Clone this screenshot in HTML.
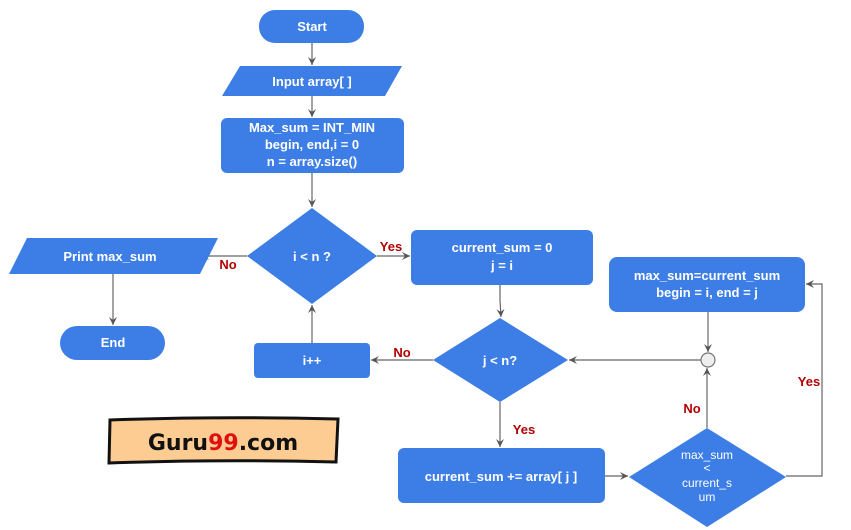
<!DOCTYPE html>
<html><head><meta charset="utf-8"><style>
body{margin:0;background:#fff}
svg{display:block}
text{font-family:"Liberation Sans",Arial,sans-serif;font-weight:bold;font-size:13px;fill:#fff;text-anchor:middle}
.r{fill:#b30000;font-size:13px}
</style></head><body>
<svg width="851" height="530" viewBox="0 0 851 530" xmlns="http://www.w3.org/2000/svg">
<defs><marker id="a" markerWidth="10" markerHeight="10" refX="8" refY="4" orient="auto" markerUnits="userSpaceOnUse"><path d="M0,0 L8,4 L0,8 L3,4 Z" fill="#555"/></marker></defs>
<g stroke="#666" stroke-width="1.2" fill="none" marker-end="url(#a)">
<line x1="312" y1="43" x2="312" y2="65"/>
<line x1="312" y1="96" x2="312" y2="117"/>
<line x1="312" y1="173" x2="312" y2="207"/>
<line x1="377" y1="256" x2="410" y2="256"/>
<line x1="247" y1="256" x2="201" y2="256"/>
<line x1="113" y1="274" x2="113" y2="325"/>
<polyline points="500,285 500,300 501,317"/>
<line x1="500" y1="402" x2="500" y2="447"/>
<line x1="433" y1="360" x2="371" y2="360"/>
<line x1="312" y1="343" x2="312" y2="305"/>
<line x1="605" y1="476" x2="628" y2="476"/>
<line x1="707" y1="428" x2="707" y2="368"/>
<line x1="701" y1="360" x2="569" y2="360"/>
<line x1="708" y1="312" x2="708" y2="352"/>
<polyline points="786,476 822,476 822,284 806,284"/>
</g>
<circle cx="708" cy="360" r="7" fill="#eee" stroke="#777" stroke-width="1.2"/>
<g fill="#3d7ee6">
<rect x="259" y="10" width="105" height="33" rx="16"/>
<polygon points="240,66 402,66 385,96 222,96"/>
<rect x="221" y="118" width="183" height="55" rx="6"/>
<polygon points="312,208 377,256 312,304 247,256"/>
<polygon points="27,238 218,238 200,274 9,274"/>
<rect x="60" y="326" width="105" height="34" rx="17"/>
<rect x="411" y="230" width="182" height="55" rx="6"/>
<polygon points="500,318 568,360 500,402 433,360"/>
<rect x="254" y="343" width="116" height="35" rx="4"/>
<rect x="609" y="257" width="196" height="55" rx="8"/>
<rect x="398" y="448" width="207" height="55" rx="6"/>
<polygon points="707,428 786,477 707,527 629,477"/>
</g>
<text x="312" y="31">Start</text>
<text x="312" y="86">Input array[ ]</text>
<text x="312" y="132">Max_sum = INT_MIN</text>
<text x="312" y="149">begin, end,i = 0</text>
<text x="312" y="166">n = array.size()</text>
<text x="312" y="261">i &lt; n ?</text>
<text x="110" y="261">Print max_sum</text>
<text x="113" y="347">End</text>
<text x="502" y="252">current_sum = 0</text>
<text x="502" y="270">j = i</text>
<text x="500" y="365">j &lt; n?</text>
<text x="312" y="365">i++</text>
<text x="707" y="280">max_sum=current_sum</text>
<text x="707" y="297">begin = i, end = j</text>
<text x="501" y="481">current_sum += array[ j ]</text>
<text x="707" y="459" style="font-weight:normal;font-size:12px">max_sum</text>
<text x="707" y="472" style="font-weight:normal;font-size:12px">&lt;</text>
<text x="707" y="487" style="font-weight:normal;font-size:12px">current_s</text>
<text x="707" y="501" style="font-weight:normal;font-size:12px">um</text>
<text class="r" x="391" y="251">Yes</text>
<text class="r" x="228" y="269">No</text>
<text class="r" x="524" y="434">Yes</text>
<text class="r" x="402" y="357">No</text>
<text class="r" x="692" y="413">No</text>
<text class="r" x="809" y="386">Yes</text>
<path d="M110,420 Q220,416 338,419 L336,462 Q220,459 109,463 Z" fill="#fdcc93" stroke="#111" stroke-width="3"/>
<text x="223" y="450" style="fill:#111;font-size:22px;font-family:'DejaVu Sans',sans-serif">Guru<tspan fill="#e01010">99</tspan>.com</text>
</svg>
</body></html>
